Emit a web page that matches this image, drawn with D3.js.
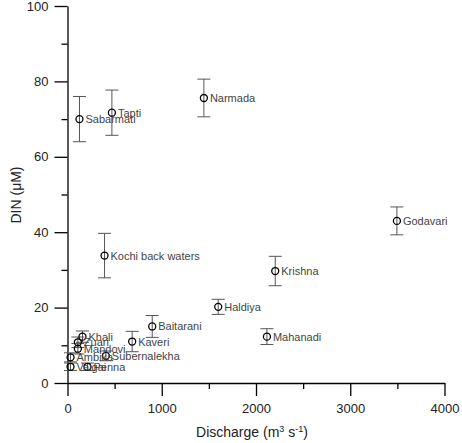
<!DOCTYPE html>
<html>
<head>
<meta charset="utf-8">
<script src="https://cdn.jsdelivr.net/npm/d3@7"></script>
<style>
  body { margin: 0; background: #fff; }
  svg text { font-family: "Liberation Sans", Arial, sans-serif; }
</style>
</head>
<body>
<div id="chart"></div>
<script>
// estuaries, discharge (m3/s), DIN (uM) and error (+/-)
const names = ["Sabarmati", "Tapti", "Narmada", "Kochi back waters", "Godavari", "Krishna",
    "Haldiya", "Mahanadi", "Baitarani", "Kaveri", "Subernalekha", "Khali", "Zuari",
    "Mandovi", "Ambika", "Vaigai", "Penna"];
const discharge = [127, 471, 1447, 393, 3495, 2204, 1599, 2116, 899, 686, 407, 159, 110, 110, 32, 32, 212];
const din = [70.0, 71.7, 75.6, 33.8, 43.0, 29.7, 20.2, 12.3, 15.0, 11.0, 7.2, 12.3, 10.8, 9.1, 6.8, 4.3, 4.3];
const err = [6.0, 6.0, 5.0, 5.9, 3.7, 3.9, 2.0, 2.1, 2.9, 2.7, 1.3, 1.5, 1.4, 1.4, 1.2, 1.0, 1.0];

const xMajor = [0, 1000, 2000, 3000, 4000];
const xMinor = [500, 1500, 2500, 3500];
const yMajor = [0, 20, 40, 60, 80, 100];
const yMinor = [10, 30, 50, 70, 90];

const data = names.map((n, i) => ({ name: n, x: discharge[i], y: din[i], e: err[i] }));

const width = 462, height = 443;
const svg = d3.select("#chart").append("svg")
    .attr("width", width)
    .attr("height", height);

const x = d3.scaleLinear().domain([0, 4000]).range([67.5, 444.5]);
const y = d3.scaleLinear().domain([0, 100]).range([383, 6]);

// axes
const gx = svg.append("g").attr("transform", `translate(0,${y(0)})`);
gx.call(d3.axisBottom(x).tickValues(xMajor).tickFormat(d3.format("d"))
    .tickSize(13).tickPadding(8).tickSizeOuter(0));
gx.append("g").call(d3.axisBottom(x).tickValues(xMinor).tickSize(6).tickFormat(""))
    .select(".domain").remove();

const gy = svg.append("g").attr("transform", `translate(${x(0)},0)`);
gy.call(d3.axisLeft(y).tickValues(yMajor).tickFormat(d3.format("d"))
    .tickSize(13).tickPadding(6).tickSizeOuter(0));
gy.append("g").call(d3.axisLeft(y).tickValues(yMinor).tickSize(6).tickFormat(""))
    .select(".domain").remove();

svg.selectAll(".domain, .tick line").attr("stroke", "#000").attr("stroke-width", 1.3);
svg.selectAll(".tick text").attr("font-size", 13).attr("fill", "#222")
    .attr("font-family", "'Liberation Sans', Arial, sans-serif");

// error bars
const eb = svg.append("g").attr("stroke", "#555").attr("stroke-width", 1);
eb.selectAll(".stem").data(data).enter().append("line")
    .attr("x1", d => x(d.x)).attr("x2", d => x(d.x))
    .attr("y1", d => y(d.y + d.e)).attr("y2", d => y(d.y - d.e));
eb.selectAll(".capTop").data(data).enter().append("line")
    .attr("x1", d => x(d.x) - 6.5).attr("x2", d => x(d.x) + 6.5)
    .attr("y1", d => y(d.y + d.e)).attr("y2", d => y(d.y + d.e));
eb.selectAll(".capBot").data(data).enter().append("line")
    .attr("x1", d => x(d.x) - 6.5).attr("x2", d => x(d.x) + 6.5)
    .attr("y1", d => y(d.y - d.e)).attr("y2", d => y(d.y - d.e));

// points
svg.append("g").selectAll("circle").data(data).enter().append("circle")
    .attr("cx", d => x(d.x))
    .attr("cy", d => y(d.y))
    .attr("r", 3.5)
    .attr("fill", "none")
    .attr("stroke", "#000")
    .attr("stroke-width", 1.3);

// labels
svg.append("g").selectAll("text").data(data).enter().append("text")
    .attr("x", d => x(d.x) + 6)
    .attr("y", d => y(d.y) + 4)
    .attr("font-size", 11)
    .attr("fill", "#444")
    .text(d => d.name);

// axis titles
const xt = svg.append("text")
    .attr("x", 252).attr("y", 437)
    .attr("text-anchor", "middle")
    .attr("font-size", 14)
    .attr("fill", "#222");
xt.append("tspan").text("Discharge (m");
xt.append("tspan").attr("font-size", 9).attr("dy", -5).text("3");
xt.append("tspan").attr("dy", 5).text(" s");
xt.append("tspan").attr("font-size", 9).attr("dy", -5).text("-1");
xt.append("tspan").attr("dy", 5).text(")");

svg.append("text")
    .attr("transform", "translate(21,195) rotate(-90)")
    .attr("text-anchor", "middle")
    .attr("font-size", 14)
    .attr("fill", "#222")
    .text("DIN (\u03BCM)");
</script>
</body>
</html>
